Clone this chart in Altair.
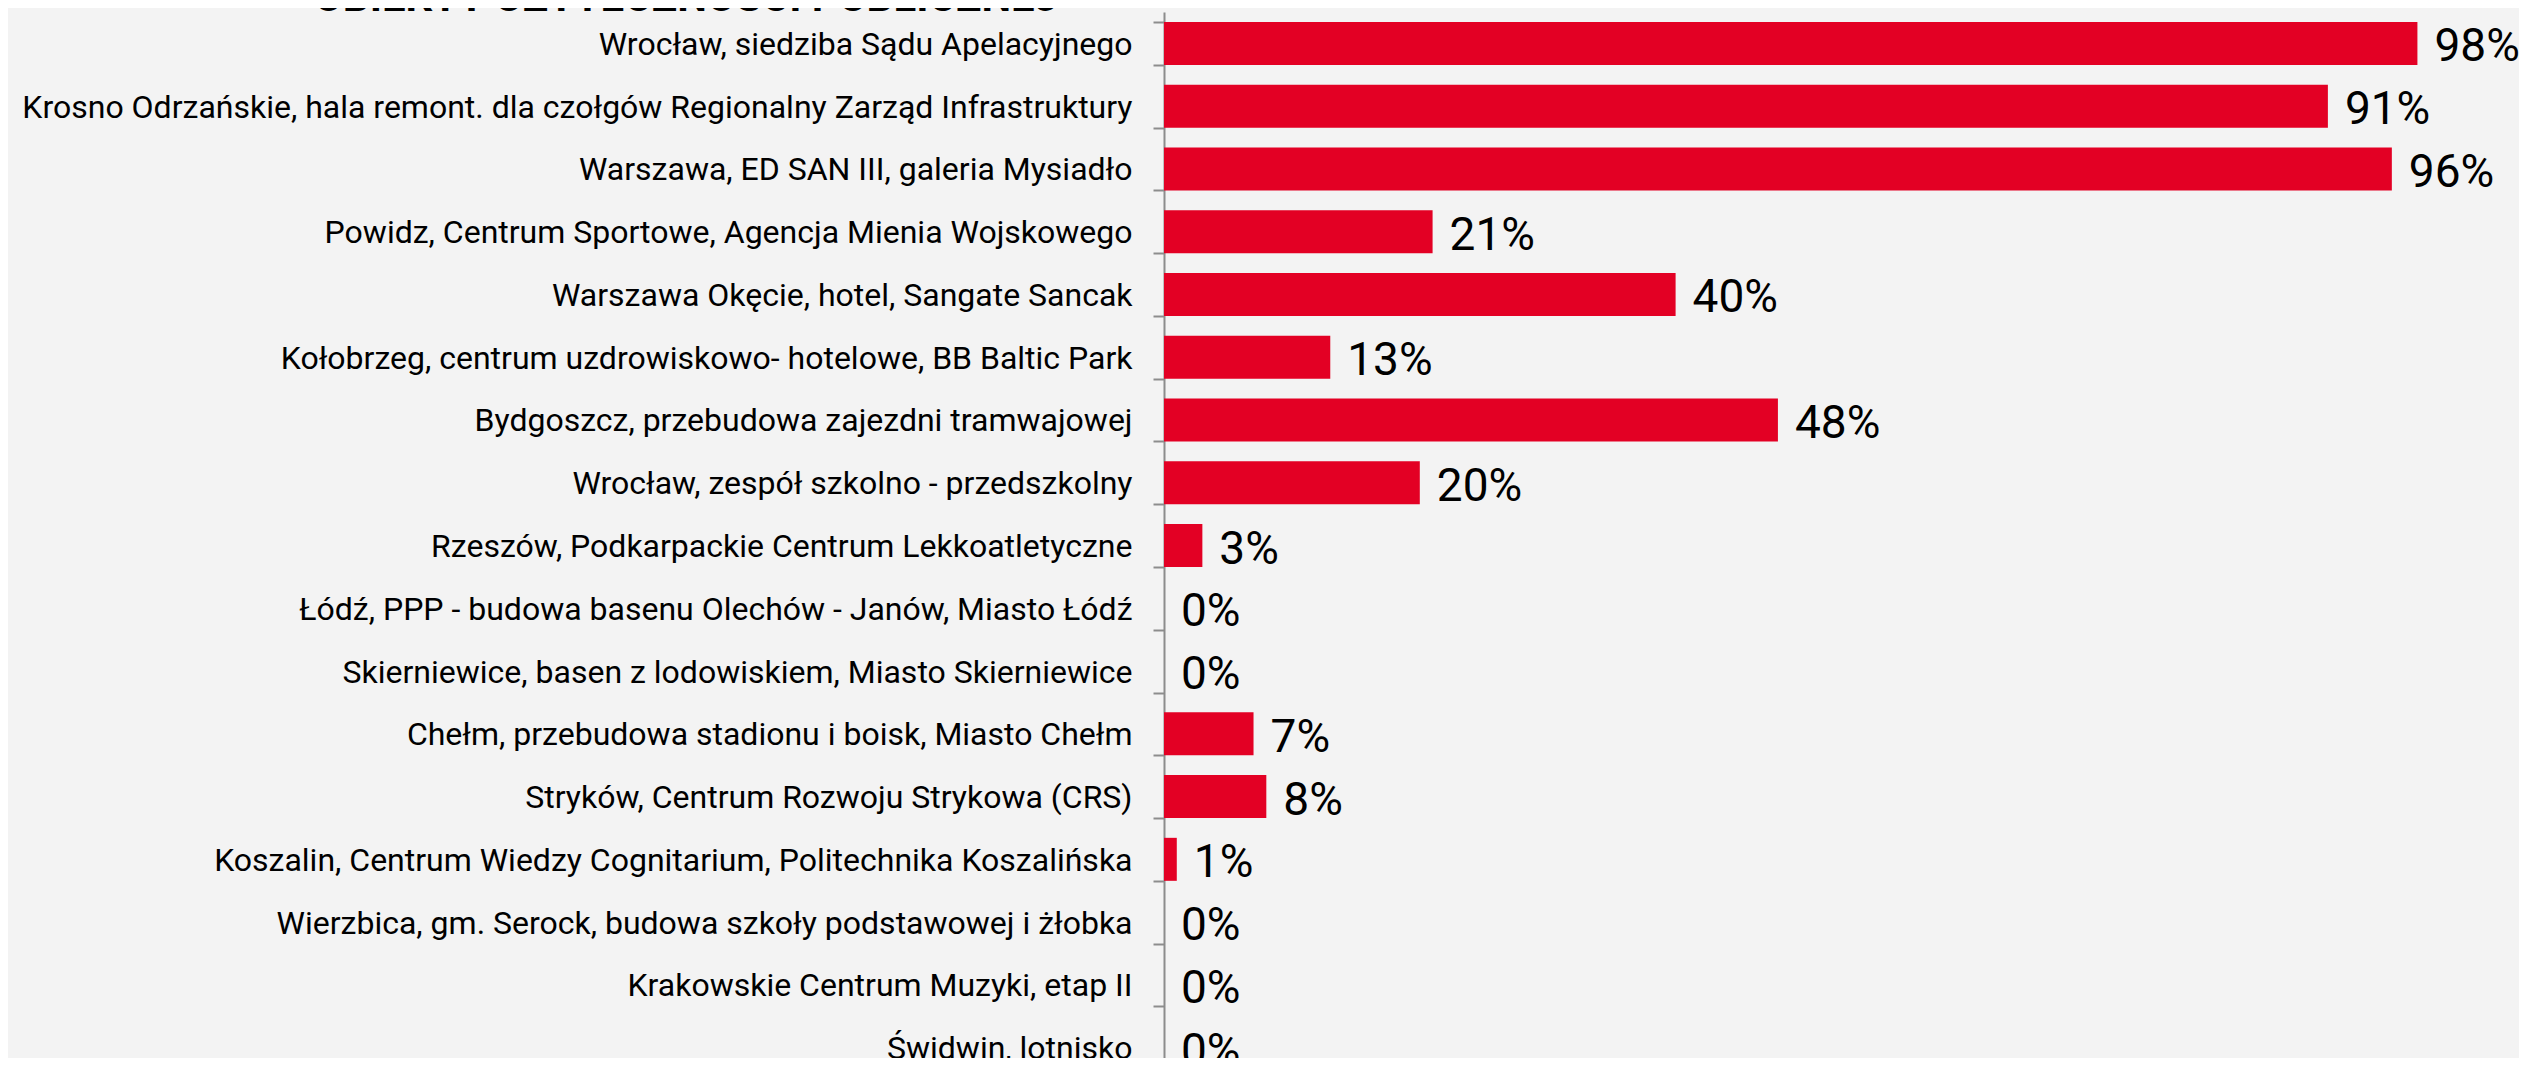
import altair as alt
import pandas as pd

categories = [
    "Wrocław, siedziba Sądu Apelacyjnego",
    "Krosno Odrzańskie, hala remont. dla czołgów Regionalny Zarząd Infrastruktury",
    "Warszawa, ED SAN III, galeria Mysiadło",
    "Powidz, Centrum Sportowe, Agencja Mienia Wojskowego",
    "Warszawa Okęcie, hotel,  Sangate Sancak",
    "Kołobrzeg, centrum uzdrowiskowo- hotelowe, BB Baltic Park",
    "Bydgoszcz, przebudowa zajezdni tramwajowej",
    "Wrocław, zespół szkolno - przedszkolny",
    "Rzeszów, Podkarpackie Centrum Lekkoatletyczne",
    "Łódź, PPP - budowa basenu Olechów - Janów, Miasto Łódź",
    "Skierniewice, basen z lodowiskiem, Miasto Skierniewice",
    "Chełm, przebudowa stadionu i boisk, Miasto Chełm",
    "Stryków, Centrum Rozwoju Strykowa (CRS)",
    "Koszalin, Centrum Wiedzy Cognitarium, Politechnika Koszalińska",
    "Wierzbica, gm. Serock, budowa szkoły podstawowej i żłobka",
    "Krakowskie Centrum Muzyki, etap II",
    "Świdwin, lotnisko",
]
values = [98, 91, 96, 21, 40, 13, 48, 20, 3, 0, 0, 7, 8, 1, 0, 0, 0]
value_labels = ["98%", "91%", "96%", "21%", "40%", "13%", "48%", "20%", "3%",
                "0%", "0%", "7%", "8%", "1%", "0%", "0%", "0%"]
title_text = "OBIEKTY UŻYTECZNOŚCI PUBLICZNEJ"

df = pd.DataFrame({"cat": categories, "val": values, "lab": value_labels})

y = alt.Y(
    "cat:N",
    sort=categories,
    title=None,
    scale=alt.Scale(range=[0, 1067], paddingInner=0.315, paddingOuter=0.1575),
    axis=alt.Axis(
        tickBand="extent",
        labelFont="Roboto",
        labelFontSize=32,
        labelColor="#000000",
        labelPadding=21,
        labelLimit=0,
        labelOffset=1,
        tickSize=11,
        tickColor="#8C8C8C",
        tickWidth=2,
        domainColor="#8C8C8C",
        domainWidth=2,
    ),
)
x = alt.X("val:Q", scale=alt.Scale(domain=[0, 100]), axis=None)

bars = alt.Chart(df).mark_bar(color="#E30024").encode(x=x, y=y)
texts = alt.Chart(df).mark_text(
    align="left", baseline="middle", dx=17, dy=4,
    font="Roboto", fontSize=46, color="#000000"
).encode(x=x, y=y, text="lab:N")

title = alt.Chart(pd.DataFrame({"t": [title_text]})).mark_text(
    align="center", baseline="alphabetic", font="Roboto",
    fontWeight="bold", fontSize=42, color="#000000"
).encode(text="t:N", x=alt.value(-478), y=alt.value(-1))

chart = alt.layer(bars, texts, title).properties(
    width=1279,
    height=1046,
    autosize=alt.AutoSizeParams(type="none"),
    padding={"left": 1156, "top": 4, "right": 76, "bottom": 0},
).configure(background="#F3F3F3").configure_view(stroke="transparent")

chart.save("out.html", embed_options={"renderer": "svg", "actions": False})
